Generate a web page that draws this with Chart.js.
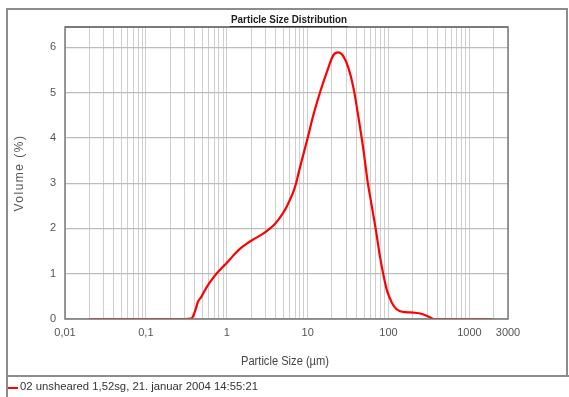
<!DOCTYPE html>
<html>
<head>
<meta charset="utf-8">
<script src="https://cdn.jsdelivr.net/npm/chart.js@4.4.1/dist/chart.umd.min.js"></script>
<style>
  html, body { margin: 0; padding: 0; background: #ffffff; }
  #c { display: block; }
</style>
</head>
<body>
<canvas id="c" width="569" height="397"></canvas>
<script>
// ---- data ----
const chartTitle = 'Particle Size Distribution';
const xAxisTitle = 'Particle Size (\u00b5m)';
const yAxisTitle = 'Volume (%)';
const seriesLabel = '02 unsheared 1,52sg, 21. januar 2004 14:55:21';

const sizes = [0.02, 0.05, 0.1, 0.2, 0.3, 0.36, 0.38, 0.41, 0.44, 0.485, 0.53, 0.586, 0.66, 0.745, 0.84, 0.94,
  1.1, 1.26, 1.5, 1.75, 2.1, 2.45, 2.85, 3.26, 3.8, 4.33, 5.0, 5.5, 6.1, 6.65, 7.2, 7.67, 8.45, 9.75,
  11.8, 14.3, 17.3, 20.8, 24.0, 27.7, 32.0, 36.9, 42.6, 49.1, 55, 62, 70, 78, 87, 96,
  110, 125, 140, 162, 205, 261, 316, 366, 500, 1000, 1923];
const volumes = [0, 0, 0, 0, 0, 0.01, 0.05, 0.2, 0.38, 0.49, 0.62, 0.75, 0.88, 1.0, 1.1, 1.19,
  1.32, 1.44, 1.57, 1.66, 1.75, 1.82, 1.89, 1.97, 2.07, 2.19, 2.35, 2.48, 2.65, 2.81, 3.0, 3.2, 3.5, 3.92,
  4.51, 5.02, 5.46, 5.83, 5.89, 5.80, 5.54, 5.10, 4.44, 3.72, 3.05, 2.5, 1.95, 1.4, 0.95, 0.62,
  0.36, 0.22, 0.17, 0.15, 0.14, 0.11, 0.05, 0.0, 0, 0, 0];

const xLabelValues = [0.01, 0.1, 1, 10, 100, 1000, 3000];
const xLabelTexts = ['0,01', '0,1', '1', '10', '100', '1000', '3000'];
const xGridMultipliers = [1, 2, 3, 4, 5, 6, 7, 8, 9];
const xDecades = [0.01, 0.1, 1, 10, 100, 1000];
const yTickValues = [0, 1, 2, 3, 4, 5, 6];
const xMin = 0.01, xMax = 3000, yMin = 0, yMax = 6.45;

const FONT = "'Liberation Sans Narrow', 'Liberation Sans', Arial, sans-serif";

const points = sizes.map((s, i) => ({ x: s, y: volumes[i] }));

function labelFor(v) {
  for (let i = 0; i < xLabelValues.length; i++) {
    if (Math.abs(v - xLabelValues[i]) / xLabelValues[i] < 1e-6) return xLabelTexts[i];
  }
  return '';
}

function fillTextWidth(ctx, text, x, y, width) {
  const w = ctx.measureText(text).width;
  const sx = width / w;
  ctx.save();
  ctx.translate(x, y);
  ctx.scale(sx, 1);
  ctx.fillText(text, 0, 0);
  ctx.restore();
}

const decorPlugin = {
  id: 'decor',
  afterDraw(chart) {
    const ctx = chart.ctx;
    const a = chart.chartArea;
    ctx.save();
    // plot border
    ctx.strokeStyle = '#7a7a7a';
    ctx.lineWidth = 1.5;
    ctx.strokeRect(a.left, a.top, a.right - a.left, a.bottom - a.top);
    ctx.lineWidth = 2;
    ctx.beginPath();
    ctx.moveTo(a.left, a.top); ctx.lineTo(a.right, a.top);
    ctx.stroke();

    // outer frame
    ctx.strokeStyle = '#8c8c8c';
    ctx.lineWidth = 2;
    ctx.beginPath();
    ctx.moveTo(7, 397); ctx.lineTo(7, 9); ctx.lineTo(567, 9); ctx.lineTo(567, 376);
    ctx.moveTo(7, 376); ctx.lineTo(569, 376);
    ctx.stroke();

    // title (condensed, underlined)
    const tcx = 289;
    ctx.fillStyle = '#222';
    ctx.font = 'bold 11px ' + FONT;
    ctx.textAlign = 'center';
    ctx.textBaseline = 'middle';
    fillTextWidth(ctx, chartTitle, tcx, 20, 116);
    ctx.strokeStyle = '#333';
    ctx.lineWidth = 1;
    ctx.beginPath();
    ctx.moveTo(tcx - 59, 26.5); ctx.lineTo(tcx + 59, 26.5);
    ctx.stroke();

    // x axis title
    ctx.fillStyle = '#444';
    ctx.font = '12px ' + FONT;
    fillTextWidth(ctx, xAxisTitle, 285, 362, 88);

    // y axis title (spaced letters)
    ctx.save();
    ctx.translate(20, (a.top + a.bottom) / 2);
    ctx.rotate(-Math.PI / 2);
    ctx.font = '12px ' + FONT;
    if ('letterSpacing' in ctx) ctx.letterSpacing = '1.5px';
    ctx.fillStyle = '#555';
    ctx.fillText(yAxisTitle, 0, 0);
    ctx.restore();

    // legend
    const ds = chart.data.datasets[0];
    ctx.strokeStyle = ds.borderColor;
    ctx.lineWidth = 2;
    ctx.beginPath();
    ctx.moveTo(8, 388); ctx.lineTo(18, 388);
    ctx.stroke();
    ctx.fillStyle = '#333';
    ctx.font = '11px ' + FONT;
    ctx.textAlign = 'left';
    fillTextWidth(ctx, ds.label, 20, 387, 238);
    ctx.restore();
  }
};

new Chart(document.getElementById('c'), {
  type: 'line',
  data: {
    datasets: [{
      label: seriesLabel,
      data: points,
      borderColor: '#ff0000',
      borderWidth: 2.2,
      pointRadius: 0,
      fill: false,
      cubicInterpolationMode: 'monotone'
    }]
  },
  options: {
    responsive: false,
    animation: false,
    devicePixelRatio: 1,
    layout: { padding: { left: 0, right: 61, top: 27, bottom: 0 } },
    plugins: { legend: { display: false }, title: { display: false }, tooltip: { enabled: false } },
    scales: {
      x: {
        type: 'logarithmic',
        min: xMin, max: xMax,
        afterFit(s) { s.height = 78; },
        afterBuildTicks(s) {
          const t = [];
          xDecades.forEach(d => xGridMultipliers.forEach(m => {
            const v = d * m;
            if (v <= xMax * (1 + 1e-9)) t.push({ value: v });
          }));
          s.ticks = t;
        },
        grid: { color: '#cfcfcf', lineWidth: 1, drawTicks: false },
        border: { display: false },
        ticks: {
          autoSkip: false, maxRotation: 0, padding: 7,
          color: '#555', font: { family: FONT, size: 11 },
          callback: (v) => labelFor(v)
        }
      },
      y: {
        type: 'linear',
        min: yMin, max: yMax,
        afterFit(s) { s.width = 65; },
        afterBuildTicks(s) { s.ticks = yTickValues.map(v => ({ value: v })); },
        grid: { color: '#bdbdbd', lineWidth: 1.3, drawTicks: false },
        border: { display: false },
        ticks: {
          padding: 9, color: '#555', font: { family: FONT, size: 11 },
          callback: (v) => String(v)
        }
      }
    }
  },
  plugins: [decorPlugin]
});
</script>
</body>
</html>
